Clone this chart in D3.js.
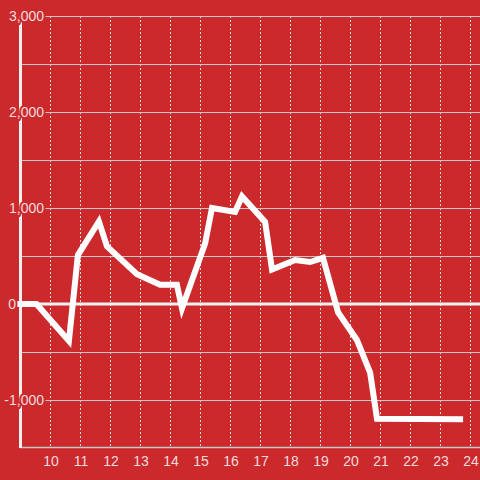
<!DOCTYPE html>
<html>
<head>
<meta charset="utf-8">
<script src="https://cdn.jsdelivr.net/npm/d3@7"></script>
<style>
  html, body { margin: 0; padding: 0; background: #cc292d; }
  svg { display: block; font-family: "Liberation Sans", Arial, sans-serif; }
</style>
</head>
<body>
<div id="chart"></div>
<script>
// ── Data ──────────────────────────────────────────────────────────────────
const xs = [9.0, 9.55, 10.63, 10.93, 11.63, 11.9, 12.9, 13.67, 14.23, 14.4,
  15.17, 15.4, 16.17, 16.4, 17.17, 17.4, 18.17, 18.67, 19.1, 19.6,
  20.23, 20.67, 20.9, 23.67];
const ys = [0, 0, -385, 510, 860, 600, 310, 200, 200, -45,
  630, 1000, 960, 1120, 855, 360, 458, 437, 480, -85,
  -375, -715, -1195, -1200];
const xTicks = [10, 11, 12, 13, 14, 15, 16, 17, 18, 19, 20, 21, 22, 23, 24];
const yTicks = [3000, 2000, 1000, 0, -1000];
const yGrid = [3000, 2500, 2000, 1500, 1000, 500, -500, -1000];

const BG = '#cc292d';
const W = 480, H = 480;

const x = d3.scaleLinear().domain([9, 24.333]).range([20, 480]);
const y = d3.scaleLinear().domain([-1500, 3000]).range([448, 16]);

const svg = d3.select('#chart').append('svg')
  .attr('width', W).attr('height', H);

svg.append('rect').attr('width', W).attr('height', H).attr('fill', BG);

// vertical dotted grid
svg.append('g').selectAll('line').data(xTicks).join('line')
  .attr('x1', d => x(d) + 0.5).attr('x2', d => x(d) + 0.5)
  .attr('y1', y(3000)).attr('y2', y(-1500))
  .attr('stroke', '#dcdcdc').attr('stroke-width', 1)
  .attr('stroke-dasharray', '2,2');

// horizontal grid
svg.append('g').selectAll('line').data(yGrid).join('line')
  .attr('x1', 20).attr('x2', W)
  .attr('y1', d => Math.round(y(d)) + 0.5).attr('y2', d => Math.round(y(d)) + 0.5)
  .attr('stroke', '#c8c8c8').attr('stroke-width', 1);

// bottom line
svg.append('line')
  .attr('x1', 20).attr('x2', W)
  .attr('y1', y(-1500) - 0.5).attr('y2', y(-1500) - 0.5)
  .attr('stroke', '#c8c8c8').attr('stroke-width', 1.5);

// zero line
svg.append('line')
  .attr('x1', 20).attr('x2', W)
  .attr('y1', y(0)).attr('y2', y(0))
  .attr('stroke', '#f2f2f2').attr('stroke-width', 3);

// y axis line
svg.append('line')
  .attr('x1', 20.5).attr('x2', 20.5)
  .attr('y1', y(3000)).attr('y2', y(-1500))
  .attr('stroke', '#f2f2f2').attr('stroke-width', 3);

// data line
const line = d3.line().x((d, i) => x(xs[i])).y(d => y(d));
svg.append('path')
  .datum(ys)
  .attr('fill', 'none')
  .attr('stroke', '#ffffff')
  .attr('stroke-width', 6)
  .attr('stroke-linejoin', 'miter')
  .attr('stroke-linecap', 'square')
  .attr('d', line);

// y labels
const fmt = d3.format(',');
svg.append('g').selectAll('text').data(yTicks).join('text')
  .attr('x', d => d === 0 ? 16 : 44)
  .attr('y', d => y(d))
  .attr('dy', '0.36em')
  .attr('text-anchor', 'end')
  .attr('font-size', 14)
  .attr('fill', '#f4dcdc')
  .attr('stroke', BG).attr('stroke-width', 4)
  .attr('paint-order', 'stroke')
  .text(d => fmt(d).replace('−', '-'));

// x labels
svg.append('g').selectAll('text').data(xTicks).join('text')
  .attr('x', d => x(d) + 1)
  .attr('y', 461)
  .attr('dy', '0.36em')
  .attr('text-anchor', 'middle')
  .attr('font-size', 14)
  .attr('fill', '#f4dcdc')
  .text(d => d);
</script>
</body>
</html>
